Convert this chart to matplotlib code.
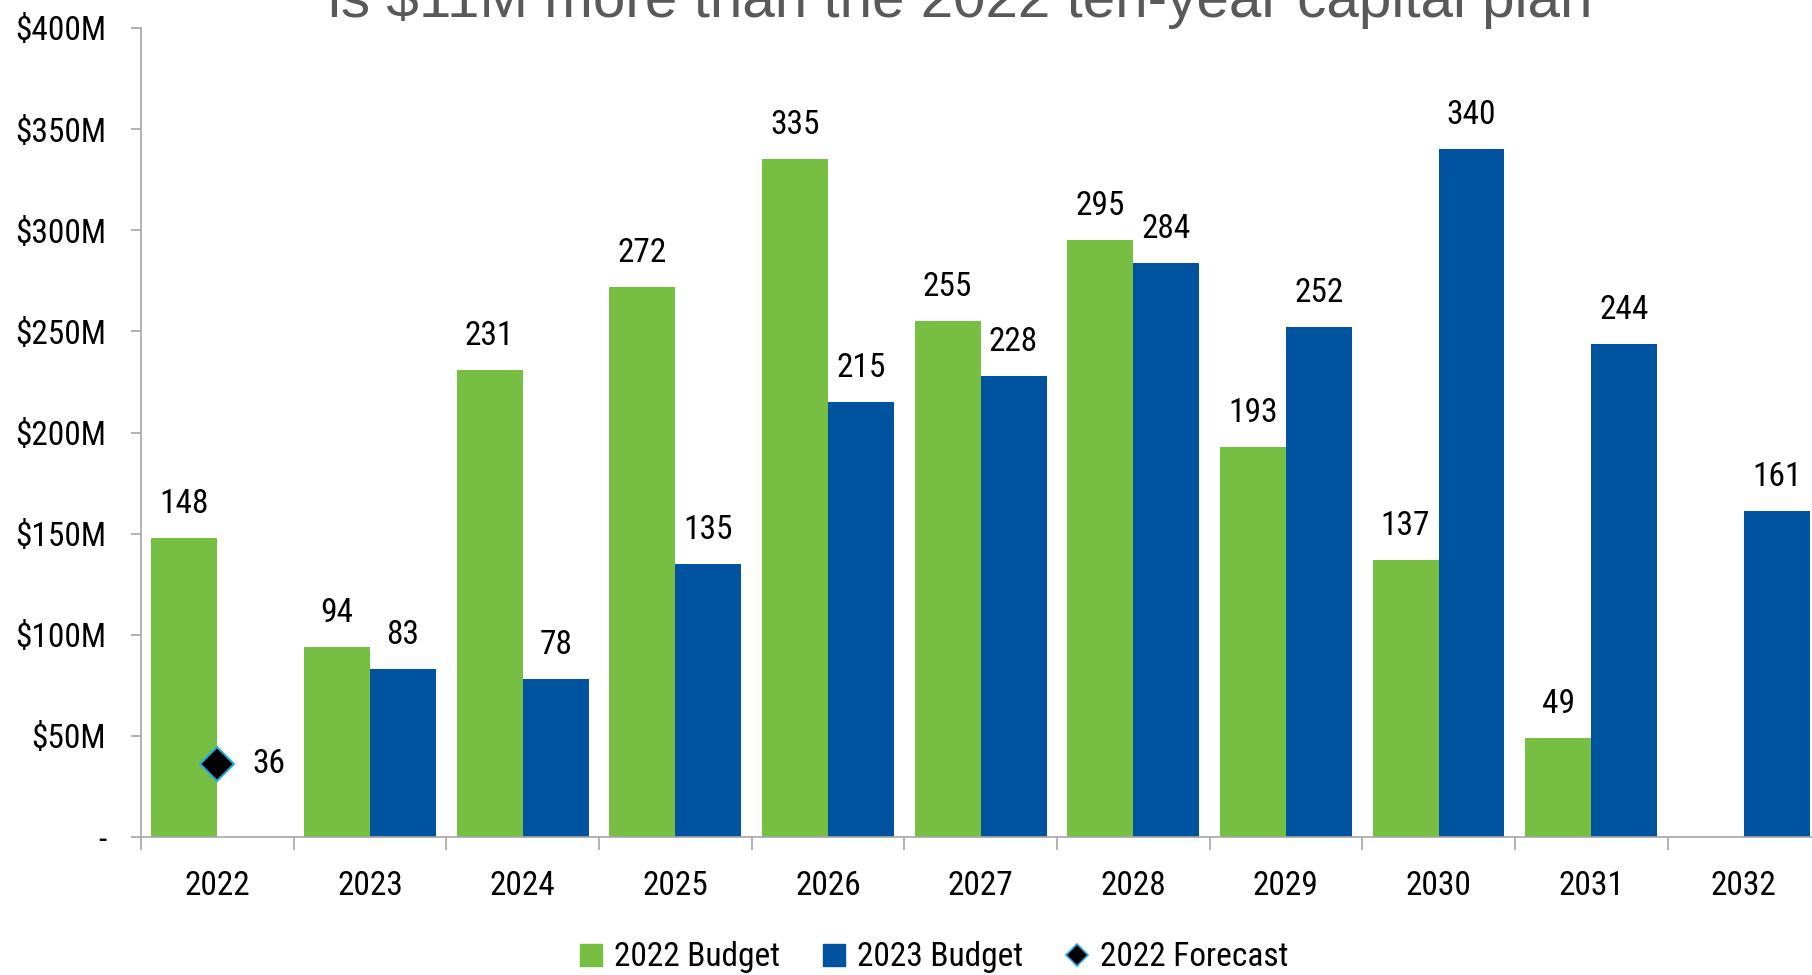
import matplotlib
matplotlib.use("Agg")
import matplotlib.pyplot as plt
from matplotlib import font_manager
from matplotlib.lines import Line2D
from matplotlib.ticker import FixedLocator

# data ($M)
years = ["2022", "2023", "2024", "2025", "2026", "2027", "2028", "2029", "2030", "2031", "2032"]
budget_2022 = [148, 94, 231, 272, 335, 255, 295, 193, 137, 49, None]
budget_2023 = [None, 83, 78, 135, 215, 228, 284, 252, 340, 244, 161]
forecast_years = ["2022"]
forecast_2022 = [36]
y_ticks = [0, 50, 100, 150, 200, 250, 300, 350, 400]
y_tick_labels = ["-", "$50M", "$100M", "$150M", "$200M", "$250M", "$300M", "$350M", "$400M"]
title = "is $11M more than the 2022 ten-year capital plan"

GREEN = "#76BF43"
BLUE = "#00539F"
GRAY = "#A6A6A6"

installed = {f.name for f in font_manager.fontManager.ttflist}
narrow = next((f for f in ["Roboto Condensed", "Liberation Sans Narrow", "DejaVu Sans Condensed"]
               if f in installed), "DejaVu Sans")
plt.rcParams["font.family"] = [narrow, "DejaVu Sans"]
FS = 24

fig = plt.figure(figsize=(18.12, 9.75), dpi=100)
ax = fig.add_axes([0.0778, 0.1415, 0.9267, 0.8298])

w = 0.432
x = list(range(len(years)))

for i, v in enumerate(budget_2022):
    if v is None:
        continue
    ax.bar(i - w / 2, v, width=w, color=GREEN, zorder=2)
    ax.annotate(str(v), (i - w / 2, v), xytext=(0, 18), textcoords="offset points",
                ha="center", va="baseline", fontsize=FS)

for i, v in enumerate(budget_2023):
    if v is None:
        continue
    ax.bar(i + w / 2, v, width=w, color=BLUE, zorder=2)
    ax.annotate(str(v), (i + w / 2, v), xytext=(0, 18), textcoords="offset points",
                ha="center", va="baseline", fontsize=FS)

fx = [years.index(y) for y in forecast_years]
ax.plot(fx, forecast_2022, linestyle="none", marker="D", markersize=17,
        markerfacecolor="black", markeredgecolor="#29ABE2", markeredgewidth=1.5, zorder=3)
for xi, v in zip(fx, forecast_2022):
    ax.annotate(str(v), (xi, v), xytext=(25, 0), textcoords="offset points",
                ha="left", va="center", fontsize=FS)

ax.set_xlim(-0.5, len(years) - 0.5)
ax.set_ylim(0, 400)
ax.set_yticks(y_ticks)
ax.set_yticklabels(y_tick_labels, fontsize=FS)
ax.set_xticks(x)
ax.set_xticklabels(years, fontsize=FS)
ax.xaxis.set_minor_locator(FixedLocator([i - 0.5 for i in range(len(years) + 1)]))

ax.tick_params(axis="x", which="major", length=0, pad=24)
ax.tick_params(axis="x", which="minor", length=9, width=1.2, color=GRAY, direction="out")
ax.tick_params(axis="y", length=7, width=1.2, color=GRAY, pad=18, direction="out")

for side in ["top", "right"]:
    ax.spines[side].set_visible(False)
for side in ["left", "bottom"]:
    ax.spines[side].set_color(GRAY)
    ax.spines[side].set_linewidth(1.2)

fig.text(0.5298, 0.9826, title, ha="center", va="baseline", fontsize=42,
         color="#595959", family=["Liberation Sans", "DejaVu Sans"])

handles = [
    Line2D([], [], linestyle="none", marker="s", markersize=16, color=GREEN),
    Line2D([], [], linestyle="none", marker="s", markersize=16, color=BLUE),
    Line2D([], [], linestyle="none", marker="D", markersize=11,
           markerfacecolor="black", markeredgecolor="#29ABE2", markeredgewidth=1.2),
]
fig.legend(handles, ["2022 Budget", "2023 Budget", "2022 Forecast"], loc="center",
           bbox_to_anchor=(0.515, 0.018), ncol=3, frameon=False, fontsize=FS,
           handlelength=0.8, handletextpad=0.3, columnspacing=1.2)

fig.savefig("out.png", dpi=100)
